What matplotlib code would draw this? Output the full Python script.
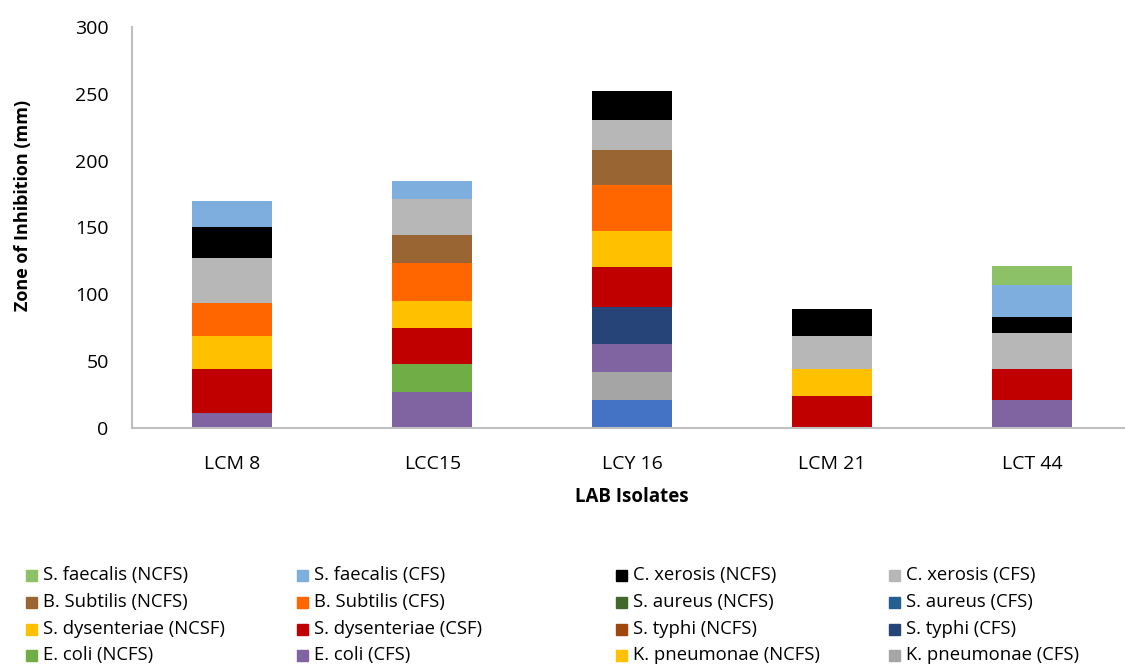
import matplotlib.pyplot as plt
from matplotlib.patches import Rectangle

plt.rcParams['font.family'] = ['Open Sans', 'DejaVu Sans']

isolates = ["LCM 8", "LCC15", "LCY 16", "LCM 21", "LCT 44"]

# stacked bottom to top; values in mm per isolate
unlisted = [0, 0, 21, 0, 0]
kpn_cfs = [0, 0, 21, 0, 0]
kpn_ncfs = [0, 0, 0, 0, 0]
ecoli_cfs = [11, 27, 21, 0, 21]
ecoli_ncfs = [0, 21, 0, 0, 0]
typhi_cfs = [0, 0, 27, 0, 0]
typhi_ncfs = [0, 0, 0, 0, 0]
dys_csf = [33, 27, 30, 24, 23]
dys_ncsf = [25, 20, 27, 20, 0]
aureus_cfs = [0, 0, 0, 0, 0]
aureus_ncfs = [0, 0, 0, 0, 0]
subtilis_cfs = [24, 28, 35, 0, 0]
subtilis_ncfs = [0, 21, 26, 0, 0]
xerosis_cfs = [34, 27, 22, 25, 27]
xerosis_ncfs = [23, 0, 22, 20, 12]
faecalis_cfs = [20, 14, 0, 0, 24]
faecalis_ncfs = [0, 0, 0, 0, 14]

series = [
    (None, unlisted, '#4472C4'),
    ("K. pneumonae (CFS)", kpn_cfs, '#A5A5A5'),
    ("K. pneumonae (NCFS)", kpn_ncfs, '#FFC000'),
    ("E. coli (CFS)", ecoli_cfs, '#8064A2'),
    ("E. coli (NCFS)", ecoli_ncfs, '#70AD47'),
    ("S. typhi (CFS)", typhi_cfs, '#264478'),
    ("S. typhi (NCFS)", typhi_ncfs, '#9E480E'),
    ("S. dysenteriae (CSF)", dys_csf, '#C00000'),
    ("S. dysenteriae (NCSF)", dys_ncsf, '#FFC000'),
    ("S. aureus (CFS)", aureus_cfs, '#255E91'),
    ("S. aureus (NCFS)", aureus_ncfs, '#43682B'),
    ("B. Subtilis (CFS)", subtilis_cfs, '#FF6600'),
    ("B. Subtilis (NCFS)", subtilis_ncfs, '#996633'),
    ("C. xerosis (CFS)", xerosis_cfs, '#B7B7B7'),
    ("C. xerosis (NCFS)", xerosis_ncfs, '#000000'),
    ("S. faecalis (CFS)", faecalis_cfs, '#7DAEDD'),
    ("S. faecalis (NCFS)", faecalis_ncfs, '#8CC168'),
]

W, H = 1125, 666
fig = plt.figure(figsize=(11.25, 6.66), dpi=100)
ax = fig.add_axes([0.1176, 0.3578, 0.8824, 0.6017])

x = list(range(len(isolates)))
bottom = [0] * len(isolates)
for name, vals, color in series:
    ax.bar(x, vals, width=0.4, bottom=bottom, color=color, linewidth=0)
    bottom = [b + v for b, v in zip(bottom, vals)]

ax.set_xlim(-0.5, 4.465)
ax.set_ylim(0, 300)
ax.set_yticks(range(0, 301, 50))
ax.set_xticks(x)
ax.set_xticklabels(isolates)
ax.tick_params(length=0, labelsize=14, colors='#000000')
ax.tick_params(axis='y', pad=17)
ax.tick_params(axis='x', pad=20)
for s in ['top', 'right']:
    ax.spines[s].set_visible(False)
for s in ['left', 'bottom']:
    ax.spines[s].set_color('#BFBFBF')
    ax.spines[s].set_linewidth(1.5)

fig.text(23 / W, 1 - 205 / H, "Zone of Inhibition (mm)", fontsize=13,
         fontweight='bold', rotation=90, ha='center', va='center')
fig.text(632 / W, 1 - 497 / H, "LAB Isolates", fontsize=13.5,
         fontweight='bold', ha='center', va='center')

# legend laid out row by row, top of stack first
entries = [(n, c) for n, v, c in reversed(series) if n is not None]
col_x = [26, 297, 616, 889]
row_y = [575, 602, 629, 655]
for i, (name, color) in enumerate(entries):
    r, c = divmod(i, 4)
    sx, sy = col_x[c], row_y[r]
    fig.patches.append(Rectangle((sx / W, 1 - (sy + 5.5) / H), 11 / W, 11 / H,
                                 transform=fig.transFigure, color=color))
    fig.text((sx + 17) / W, 1 - sy / H, name, fontsize=13.3, va='center', ha='left')

fig.savefig('out.png', dpi=100)
